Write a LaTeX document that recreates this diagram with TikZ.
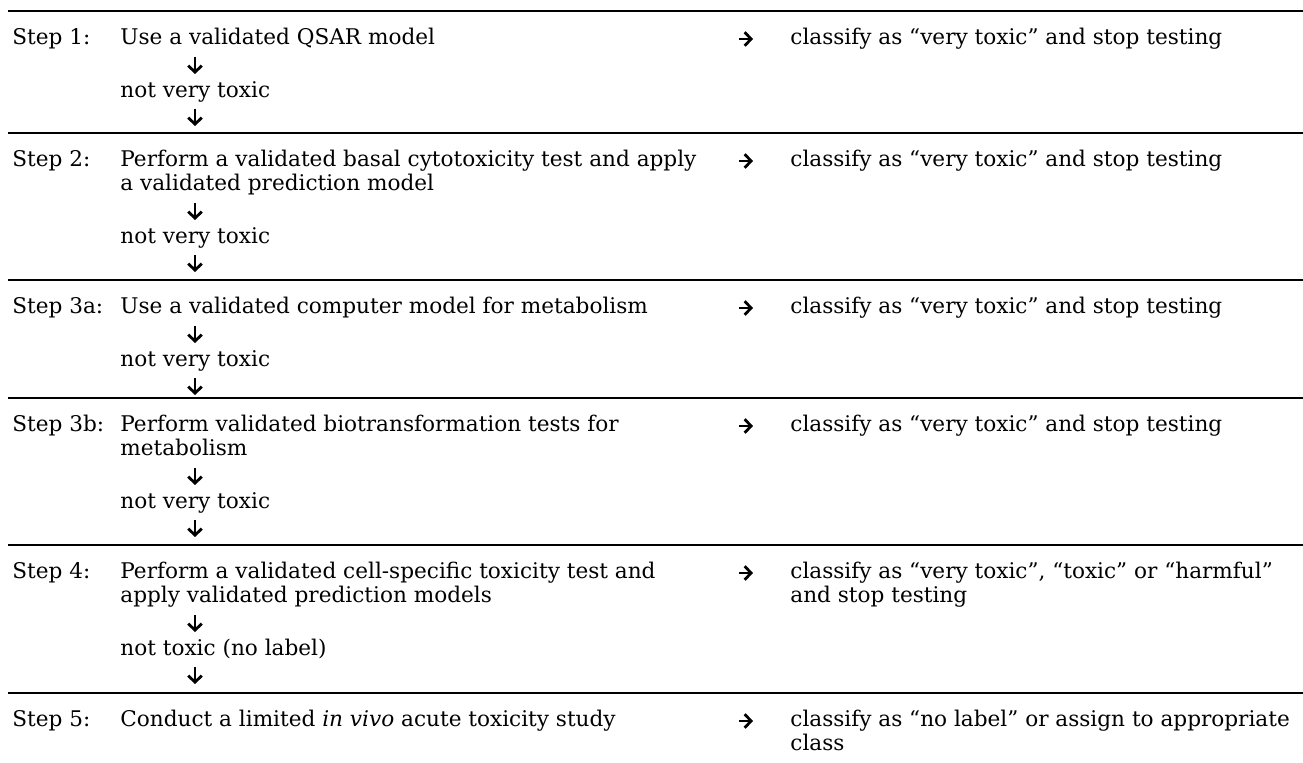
\documentclass[tikz,border=0pt]{standalone}
\usepackage{fontspec}
\setmainfont{DejaVu Serif}
\usetikzlibrary{arrows.meta}
\tikzset{
  txt/.style={anchor=base west, inner sep=0pt, align=left, font=\fontsize{10.8}{12}\selectfont},
  darr/.style={line width=1.4pt, -{Straight Barb[length=3.2pt,width=6.8pt]}},
  rule/.style={line width=1pt}
}
\begin{document}
\begin{tikzpicture}[x=0.5pt,y=-0.5pt]
  \useasboundingbox (0,0) rectangle (1303,763);
  \def\xs{12} \def\xa{120} \def\xc{790}
  % rules between the steps
  \foreach \y in {11,133,280,398,545,693} { \draw[rule] (8,\y) -- (1303,\y); }
  % step labels
  \foreach \y/\t in {45/1,167/2,314/3a,432/3b,579/4,727/5} { \node[txt] (s\t) at (\xs,\y) {Step \t:}; }
  % what to do in each step (two-line nodes sit on their last baseline)
  \node[txt] (a1) at (\xa,45) {Use a validated QSAR model};
  \node[txt] (a2) at (\xa,191) {Perform a validated basal cytotoxicity test and apply\\a validated prediction model};
  \node[txt] (a3a) at (\xa,314) {Use a validated computer model for metabolism};
  \node[txt] (a3b) at (\xa,456) {Perform validated biotransformation tests for\\metabolism};
  \node[txt] (a4) at (\xa,603) {Perform a validated cell-specific toxicity test and\\apply validated prediction models};
  \node[txt] (a5) at (\xa,727) {Conduct a limited \textit{in vivo} acute toxicity study};
  % outcomes
  \foreach \y/\k in {98/1,244/2,367/3a,509/3b} { \node[txt] (n\k) at (\xa,\y) {not very toxic}; }
  \node[txt] (n4) at (\xa,656) {not toxic (no label)};
  % classification
  \foreach \y/\k in {45/1,167/2,314/3a,432/3b} { \node[txt] (c\k) at (\xc,\y) {classify as “very toxic” and stop testing}; }
  \node[txt] (c4) at (\xc,603) {classify as “very toxic”, “toxic” or “harmful”\\and stop testing};
  \node[txt] (c5) at (\xc,751) {classify as “no label” or assign to appropriate\\class};
  % down arrows
  \foreach \y [count=\k] in {65,117,211,263,334,386,476,528,623,675} {
    \coordinate (dt\k) at (195,\y-8); \coordinate (db\k) at (195,\y+9);
    \draw[darr] (dt\k) -- (db\k); }
  % right arrows
  \foreach \y [count=\k] in {45,167,314,432,579,727} {
    \coordinate (rl\k) at (739,\y-6); \coordinate (rr\k) at (753,\y-6);
    \draw[darr] (rl\k) -- (rr\k); }
\end{tikzpicture}
\end{document}
